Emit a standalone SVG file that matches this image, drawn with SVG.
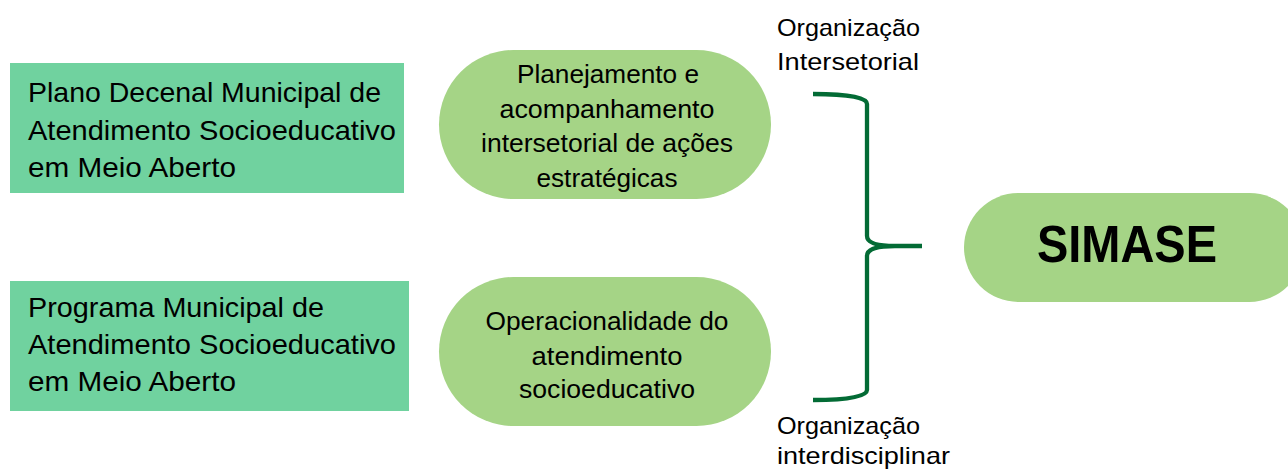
<svg xmlns="http://www.w3.org/2000/svg" width="1288" height="470" viewBox="0 0 1288 470">
<style>
text{font-family:"Liberation Sans",Arial,sans-serif;fill:#000}
.box{fill:#70d29f}
.oval{fill:#a5d486}
.bt{font-size:28.5px}
.ot{font-size:25px;text-anchor:middle}
.lt{font-size:24px}
.big{font-size:51px;font-weight:bold;text-anchor:middle}
.br{fill:none;stroke:#036b35;stroke-width:4.3;stroke-linecap:butt;stroke-linejoin:round}
</style>
<rect width="1288" height="470" fill="#fff"/>
<g id="box1">
<rect class="box" x="10" y="63" width="394" height="130"/>
<text class="bt" x="28" y="102" textLength="353" lengthAdjust="spacingAndGlyphs">Plano Decenal Municipal de</text>
<text class="bt" x="28" y="140" textLength="368" lengthAdjust="spacingAndGlyphs">Atendimento Socioeducativo</text>
<text class="bt" x="28" y="177" textLength="208" lengthAdjust="spacingAndGlyphs">em Meio Aberto</text>
</g>
<g id="box2">
<rect class="box" x="10" y="281" width="399" height="130"/>
<text class="bt" x="28" y="317" textLength="296" lengthAdjust="spacingAndGlyphs">Programa Municipal de</text>
<text class="bt" x="28" y="354" textLength="368" lengthAdjust="spacingAndGlyphs">Atendimento Socioeducativo</text>
<text class="bt" x="28" y="391" textLength="208" lengthAdjust="spacingAndGlyphs">em Meio Aberto</text>
</g>
<g id="oval1">
<rect class="oval" x="439" y="50" width="332" height="149" rx="74.5" ry="74.5"/>
<text class="ot" x="608" y="83" textLength="182" lengthAdjust="spacingAndGlyphs">Planejamento e</text>
<text class="ot" x="607" y="118" textLength="215" lengthAdjust="spacingAndGlyphs">acompanhamento</text>
<text class="ot" x="607" y="152" textLength="252" lengthAdjust="spacingAndGlyphs">intersetorial de ações</text>
<text class="ot" x="607" y="187" textLength="141" lengthAdjust="spacingAndGlyphs">estratégicas</text>
</g>
<g id="oval2">
<rect class="oval" x="439" y="277" width="332" height="149" rx="74.5" ry="74.5"/>
<text class="ot" x="607" y="330" textLength="243" lengthAdjust="spacingAndGlyphs">Operacionalidade do</text>
<text class="ot" x="607" y="365" textLength="151" lengthAdjust="spacingAndGlyphs">atendimento</text>
<text class="ot" x="607" y="398" textLength="176" lengthAdjust="spacingAndGlyphs">socioeducativo</text>
</g>
<g id="simase">
<rect class="oval" x="964" y="193" width="340" height="109" rx="54.5" ry="54.5"/>
<text class="big" x="1127" y="262" textLength="180" lengthAdjust="spacingAndGlyphs">SIMASE</text>
</g>
<g id="label-top">
<text class="lt" x="777" y="36" textLength="143" lengthAdjust="spacingAndGlyphs">Organização</text>
<text class="lt" x="777" y="70" textLength="142" lengthAdjust="spacingAndGlyphs">Intersetorial</text>
</g>
<g id="label-bottom">
<text class="lt" x="777" y="434" textLength="143" lengthAdjust="spacingAndGlyphs">Organização</text>
<text class="lt" x="777" y="464" textLength="173" lengthAdjust="spacingAndGlyphs">interdisciplinar</text>
</g>
<g id="connectors">
<path class="br" d="M813,94 C850,94 867,98 867,104 L867,236 C867,243 878,246 895,246 L922,246 M895,246 C878,246 867,249 867,256 L867,390 C867,396 850,400 813,400"/>
</g>
</svg>
